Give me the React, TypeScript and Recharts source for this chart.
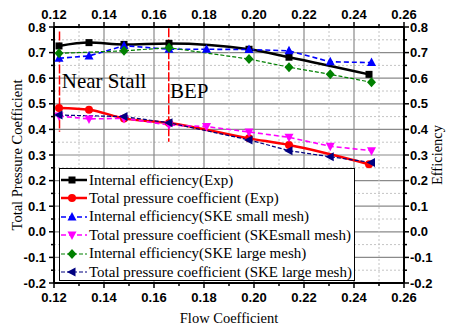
import React from 'react';
import {
  LineChart,
  Line,
  XAxis,
  YAxis,
  CartesianGrid,
  Legend,
  ReferenceLine,
  ReferenceDot,
} from 'recharts';

// flow coefficient positions
const flowExp = [0.122, 0.134, 0.148, 0.166, 0.198, 0.214, 0.246];
const flowSmall = [0.122, 0.134, 0.148, 0.166, 0.181, 0.198, 0.214, 0.2305, 0.247];
const flowLarge = [0.122, 0.148, 0.166, 0.198, 0.214, 0.2305, 0.247];

// measured / simulated values
const effExp = [0.726, 0.739, 0.732, 0.736, 0.713, 0.682, 0.615];
const tpcExp = [0.484, 0.477, 0.443, 0.425, 0.365, 0.339, 0.264];
const effSmall = [0.678, 0.687, 0.727, 0.713, 0.713, 0.712, 0.707, 0.664, 0.661];
const tpcSmall = [0.452, 0.441, 0.443, 0.417, 0.411, 0.39, 0.369, 0.334, 0.317];
const effLarge = [0.697, 0.707, 0.719, 0.675, 0.643, 0.615, 0.584];
const tpcLarge = [0.456, 0.45, 0.426, 0.359, 0.317, 0.293, 0.271];

// operating point markers
const markerNames = ['Near Stall', 'BEP'];
const markerFlows = [0.1222, 0.1659];
const markerTops = [0.782, 0.795];
const markerBottoms = [0.391, 0.352];
const markerTextX = [0.1231, 0.1664];
const markerTextY = [0.591, 0.552];

const xTicks = [0.12, 0.13, 0.14, 0.15, 0.16, 0.17, 0.18, 0.19, 0.2, 0.21, 0.22, 0.23, 0.24, 0.25, 0.26];
const yTicks = [
  -0.2, -0.15, -0.1, -0.05, 0, 0.05, 0.1, 0.15, 0.2, 0.25, 0.3, 0.35, 0.4, 0.45, 0.5, 0.55, 0.6, 0.65, 0.7, 0.75,
  0.8,
];

const toPoints = (xs: number[], ys: number[]) => xs.map((x, i) => ({ x, y: ys[i] }));

type Shape = 'square' | 'circle' | 'up' | 'down' | 'diamond' | 'left';

const series = [
  { name: 'Internal efficiency(Exp)', data: toPoints(flowExp, effExp), color: '#000000', shape: 'square' as Shape, dash: undefined, width: 2.5, curve: 'monotone' },
  { name: 'Total pressure coefficient (Exp)', data: toPoints(flowExp, tpcExp), color: '#ff0000', shape: 'circle' as Shape, dash: undefined, width: 2.5, curve: 'monotone' },
  { name: 'Internal efficiency(SKE small mesh)', data: toPoints(flowSmall, effSmall), color: '#0000ff', shape: 'up' as Shape, dash: '5 3', width: 1.6, curve: 'linear' },
  { name: 'Total pressure coefficient (SKEsmall mesh)', data: toPoints(flowSmall, tpcSmall), color: '#ff00ff', shape: 'down' as Shape, dash: '5 3', width: 1.6, curve: 'linear' },
  { name: 'Internal efficiency(SKE large mesh)', data: toPoints(flowLarge, effLarge), color: '#008000', shape: 'diamond' as Shape, dash: '4 2', width: 1.2, curve: 'linear' },
  { name: 'Total pressure coefficient (SKE large mesh)', data: toPoints(flowLarge, tpcLarge), color: '#000080', shape: 'left' as Shape, dash: '4 2', width: 1.2, curve: 'linear' },
];

const tickFont = { fontFamily: '"Liberation Sans", Arial, sans-serif', fontSize: 13, fontWeight: 700, fill: '#000' };
const serif = '"Liberation Serif", "Times New Roman", serif';

function Marker({ shape, cx, cy, color }: { shape: Shape; cx: number; cy: number; color: string }) {
  switch (shape) {
    case 'square':
      return <rect x={cx - 3.5} y={cy - 3.5} width={7} height={7} fill={color} />;
    case 'circle':
      return <circle cx={cx} cy={cy} r={4} fill={color} />;
    case 'up':
      return <polygon points={`${cx},${cy - 5} ${cx + 4.5},${cy + 3.5} ${cx - 4.5},${cy + 3.5}`} fill={color} />;
    case 'down':
      return <polygon points={`${cx},${cy + 5} ${cx + 4.5},${cy - 3.5} ${cx - 4.5},${cy - 3.5}`} fill={color} />;
    case 'diamond':
      return <polygon points={`${cx},${cy - 5} ${cx + 4.5},${cy} ${cx},${cy + 5} ${cx - 4.5},${cy}`} fill={color} />;
    default:
      return <polygon points={`${cx - 5},${cy} ${cx + 3.5},${cy - 4.5} ${cx + 3.5},${cy + 4.5}`} fill={color} />;
  }
}

const isMajorX = (v: number) => Math.round(v * 100) % 2 === 0;
const isMajorY = (v: number) => Math.round(v * 100) % 10 === 0;

const XTickBottom = (p: any) => {
  const v = p.payload.value;
  const major = isMajorX(v);
  return (
    <g>
      <line x1={p.x} y1={p.y} x2={p.x} y2={p.y + (major ? 5 : 3)} stroke="#000" strokeWidth={1.5} />
      {major && (
        <text x={p.x} y={p.y + 19} textAnchor="middle" style={tickFont}>
          {v.toFixed(2)}
        </text>
      )}
    </g>
  );
};

const XTickTop = (p: any) => {
  const v = p.payload.value;
  const major = isMajorX(v);
  return (
    <g>
      <line x1={p.x} y1={p.y} x2={p.x} y2={p.y - (major ? 5 : 3)} stroke="#000" strokeWidth={1.5} />
      {major && (
        <text x={p.x} y={p.y - 8} textAnchor="middle" style={tickFont}>
          {v.toFixed(2)}
        </text>
      )}
    </g>
  );
};

const YTickLeft = (p: any) => {
  const v = p.payload.value;
  const major = isMajorY(v);
  return (
    <g>
      <line x1={p.x} y1={p.y} x2={p.x - (major ? 5 : 3)} y2={p.y} stroke="#000" strokeWidth={1.5} />
      {major && (
        <text x={p.x - 8} y={p.y + 4.5} textAnchor="end" style={tickFont}>
          {v.toFixed(1)}
        </text>
      )}
    </g>
  );
};

const YTickRight = (p: any) => {
  const v = p.payload.value;
  const major = isMajorY(v);
  return (
    <g>
      <line x1={p.x} y1={p.y} x2={p.x + (major ? 5 : 3)} y2={p.y} stroke="#000" strokeWidth={1.5} />
      {major && (
        <text x={p.x + 6} y={p.y + 4.5} textAnchor="start" style={tickFont}>
          {v.toFixed(1)}
        </text>
      )}
    </g>
  );
};

const gridLine = (kind: 'x' | 'y') => (p: any) => {
  const major = p.index % 2 === 0;
  return (
    <line
      key={p.key}
      x1={p.x1}
      y1={p.y1}
      x2={p.x2}
      y2={p.y2}
      stroke={major ? '#8a8a8a' : '#c4c4c4'}
      strokeWidth={major ? 1.2 : 1}
      strokeDasharray={major ? undefined : '2 2'}
      className={`grid-${kind}`}
    />
  );
};

const LegendBox = () => (
  <div
    style={{
      position: 'relative',
      width: 296,
      height: 113,
      border: '1px solid #000',
      background: '#fff',
      boxSizing: 'border-box',
    }}
  >
    {series.map((s, i) => (
      <div
        key={s.name}
        style={{
          position: 'absolute',
          left: 0,
          top: 2 + i * 18.4,
          height: 18,
          display: 'flex',
          alignItems: 'center',
          whiteSpace: 'nowrap',
        }}
      >
        <svg width={29} height={18} style={{ display: 'block' }}>
          <line x1={1} y1={9} x2={27} y2={9} stroke={s.color} strokeWidth={s.width} strokeDasharray={s.dash} />
          <Marker shape={s.shape} cx={12} cy={9} color={s.color} />
        </svg>
        <span style={{ fontFamily: serif, fontSize: 15, color: '#000' }}>{s.name}</span>
      </div>
    ))}
  </div>
);

export default function App() {
  return (
    <div style={{ position: 'absolute', left: 0, top: 0, width: 450, height: 329, background: '#fff' }}>
      <LineChart width={450} height={329} margin={{ top: 0, right: 0, bottom: 0, left: 0 }}>
        <CartesianGrid vertical={gridLine('x')} horizontal={gridLine('y')} />
        <XAxis
          dataKey="x"
          type="number"
          domain={[0.12, 0.26]}
          ticks={xTicks}
          interval={0}
          height={46}
          tickSize={0}
          tickMargin={0}
          tickLine={false}
          tick={XTickBottom}
          axisLine={{ stroke: '#000', strokeWidth: 2 }}
          allowDataOverflow
          label={{
            value: 'Flow Coefficient',
            position: 'insideBottom',
            offset: 6,
            style: { fontFamily: serif, fontSize: 14.5, fill: '#000', textAnchor: 'middle' },
          }}
        />
        <XAxis
          xAxisId="top"
          orientation="top"
          dataKey="x"
          type="number"
          domain={[0.12, 0.26]}
          ticks={xTicks}
          interval={0}
          height={27}
          tickSize={0}
          tickMargin={0}
          tickLine={false}
          tick={XTickTop}
          axisLine={{ stroke: '#000', strokeWidth: 2 }}
          allowDataOverflow
        />
        <YAxis
          type="number"
          domain={[-0.2, 0.8]}
          ticks={yTicks}
          interval={0}
          width={54}
          tickSize={0}
          tickMargin={0}
          tickLine={false}
          tick={YTickLeft}
          axisLine={{ stroke: '#000', strokeWidth: 2 }}
          allowDataOverflow
          label={{
            value: 'Total Pressure Coefficient',
            angle: -90,
            position: 'insideLeft',
            offset: 17,
            style: { fontFamily: serif, fontSize: 14.5, fill: '#000', textAnchor: 'middle' },
          }}
        />
        <YAxis
          yAxisId="right"
          orientation="right"
          type="number"
          domain={[-0.2, 0.8]}
          ticks={yTicks}
          interval={0}
          width={46}
          tickSize={0}
          tickMargin={0}
          tickLine={false}
          tick={YTickRight}
          axisLine={{ stroke: '#000', strokeWidth: 2 }}
          allowDataOverflow
          label={{
            value: 'Efficiency',
            angle: -90,
            position: 'insideRight',
            offset: 13,
            style: { fontFamily: serif, fontSize: 14.5, fill: '#000', textAnchor: 'middle' },
          }}
        />
        {markerNames.map((name, i) => (
          <ReferenceLine
            key={`ref-${name}`}
            segment={[
              { x: markerFlows[i], y: markerTops[i] },
              { x: markerFlows[i], y: markerBottoms[i] },
            ]}
            stroke="#ff0000"
            strokeWidth={1.5}
            strokeDasharray="9 2"
          />
        ))}
        {markerNames.map((name, i) => (
          <ReferenceDot
            key={`txt-${name}`}
            x={markerTextX[i]}
            y={markerTextY[i]}
            r={0}
            fill="none"
            stroke="none"
            label={{
              value: name,
              position: 'right',
              offset: 0,
              style: { fontFamily: serif, fontSize: 21, fill: '#000' },
            }}
          />
        ))}
        {series.map((s) => (
          <Line
            key={s.name}
            data={s.data}
            dataKey="y"
            name={s.name}
            type={s.curve as any}
            stroke={s.color}
            strokeWidth={s.width}
            strokeDasharray={s.dash}
            isAnimationActive={false}
            dot={(p: any) => <Marker key={`${s.name}-${p.index}`} shape={s.shape} cx={p.cx} cy={p.cy} color={s.color} />}
            activeDot={false}
          />
        ))}
        <Legend
          layout="vertical"
          align="center"
          verticalAlign="middle"
          wrapperStyle={{ left: 59, top: 168, width: 296, height: 113 }}
          content={() => <LegendBox />}
        />
      </LineChart>
    </div>
  );
}
